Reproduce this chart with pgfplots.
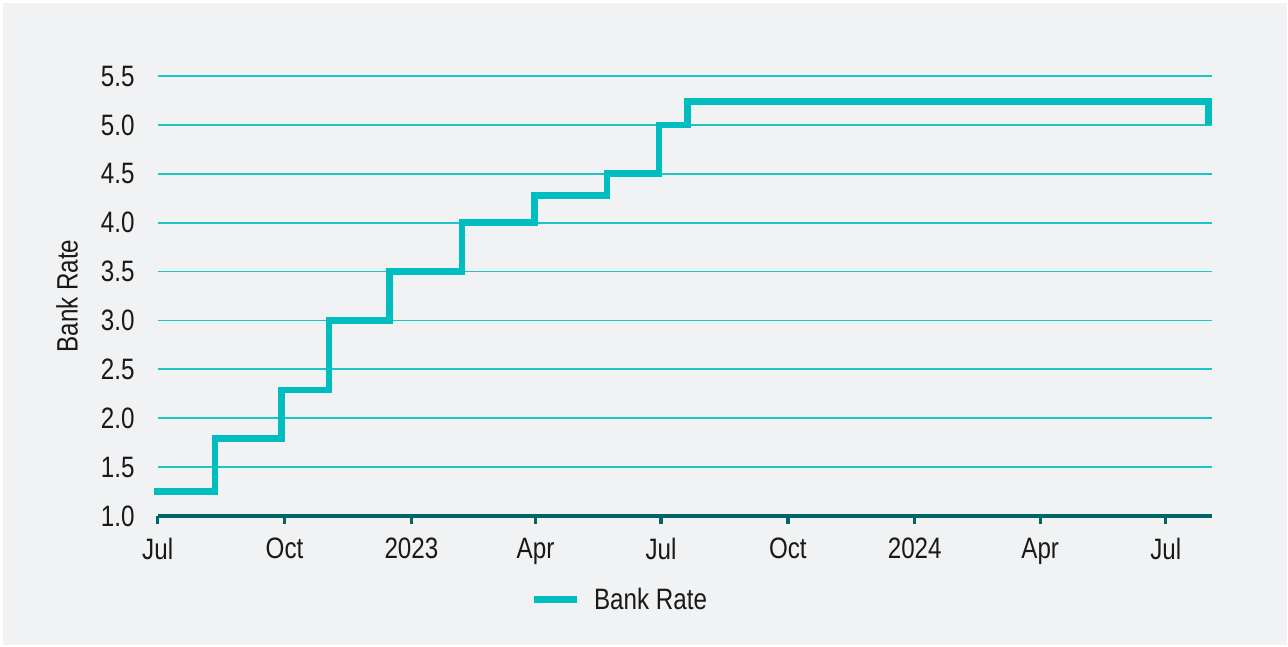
\documentclass[border=0pt]{standalone}
\usepackage{fontspec}
\setmainfont{Liberation Sans}[FakeStretch=0.82]
\usepackage{pgfplots}
\pgfplotsset{compat=1.18}
\definecolor{bg}{RGB}{241,242,244}
\definecolor{lineteal}{RGB}{0,190,192}
\definecolor{gridteal}{RGB}{28,196,198}
\definecolor{axisteal}{RGB}{0,100,102}
\definecolor{txt}{RGB}{25,25,25}
\begin{document}
\begin{tikzpicture}[font=\fontsize{29.5}{34}\selectfont]
\useasboundingbox (0,0) rectangle (1288pt,646pt);
\fill[white] (0,0) rectangle (1288pt,646pt);
\fill[bg] (3pt,1pt) rectangle (1287pt,643pt);
\begin{axis}[
  at={(157.7pt,130pt)}, anchor=south west,
  scale only axis, width=1054.3pt, height=440pt,
  xmin=0, xmax=764.6, ymin=1, ymax=5.5,
  clip=false,
  axis x line*=bottom, axis y line*=left,
  y axis line style={draw=none},
  x axis line style={draw=axisteal, line width=4pt, -},
  xtick={0,92,184,274,365,457,549,640,731},
  xticklabels={Jul,Oct,2023,Apr,Jul,Oct,2024,Apr,Jul},
  ytick={1,1.5,2,2.5,3,3.5,4,4.5,5,5.5},
  ymajorgrids,
  grid style={gridteal, line width=1.8pt},
  tick align=outside, major tick length=8pt,
  xtick style={axisteal, line width=3.3pt},
  ytick style={draw=none},
  /pgf/number format/assume math mode=true,
  yticklabel style={/pgf/number format/fixed, /pgf/number format/fixed zerofill, /pgf/number format/precision=1},
  tick label style={font=\fontsize{29.5}{34}\selectfont, text=txt},
  yticklabel style={anchor=east, inner sep=0pt, xshift=-15pt},
  xticklabel style={anchor=north, inner sep=0pt, yshift=-14pt},
  ylabel={Bank Rate},
  ylabel style={at={(axis description cs:-0.086,0.5)}, anchor=center, font=\fontsize{29.5}{34}\selectfont, text=txt, inner sep=0pt},
  legend style={at={(0.3532,-0.1909)}, anchor=west, draw=none, fill=none,
    inner sep=0pt, outer sep=0pt, nodes={inner sep=0pt, text=txt},
    font=\fontsize{29.5}{34}\selectfont, column sep=14pt},
  legend image code/.code={\draw[lineteal, line width=7pt] (0pt,0pt) -- (43pt,0pt);},
]
\addplot[const plot, lineteal, line width=6.6pt, line join=miter, line cap=butt]
  coordinates {
  (-2.5,1.25) (41.6,1.79) (89.8,2.29) (124.2,3.0) (168.2,3.5) (220.8,4.0)
  (273.4,4.28) (325.7,4.5) (363.4,5.0) (384.4,5.24) (762.2,5.0)
  };
\addlegendentry{Bank Rate}
\end{axis}
\end{tikzpicture}
\end{document}
